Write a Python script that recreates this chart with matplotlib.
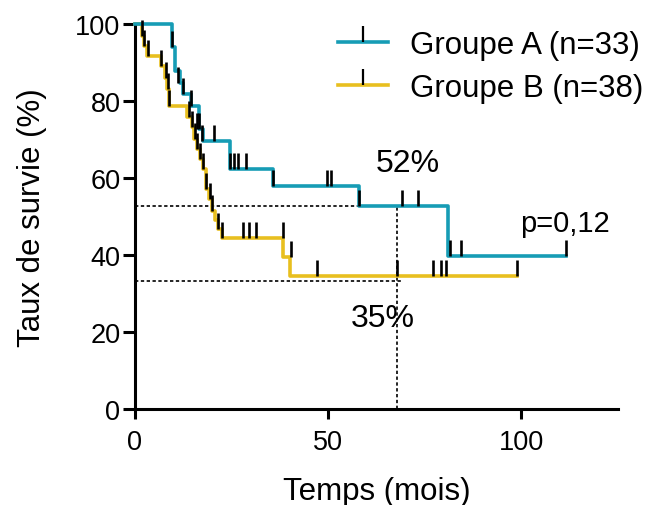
import matplotlib
matplotlib.use('Agg')
import matplotlib.pyplot as plt
from matplotlib.path import Path
from matplotlib.lines import Line2D

plt.rcParams['font.family'] = ['Liberation Sans', 'DejaVu Sans']

# survival steps (time in months, survival in %)
a_time = [0, 9.5, 10.3, 11.6, 12.3, 14.6, 16.6, 17.5, 24.5, 35.6, 58.0, 81.0, 111.6]
a_surv = [100, 93.9, 87.9, 84.8, 81.8, 78.8, 72.7, 69.7, 62.3, 58.0, 52.6, 39.7, 39.7]
b_time = [0, 1.7, 2.3, 3.2, 6.6, 7.8, 8.3, 8.9, 13.5, 14.7, 15.3, 16.0, 16.8, 17.5,
          18.3, 19.2, 19.8, 20.7, 21.5, 22.4, 38.4, 40.1, 98.9]
b_surv = [100, 97.0, 94.4, 91.8, 89.2, 86.1, 83.0, 78.8, 75.8, 73.2, 70.1, 67.5, 64.9,
          62.3, 57.1, 54.5, 51.5, 49.0, 46.8, 44.3, 39.6, 34.6, 34.6]

# censored observations
a_cens_t = [9.5, 11.2, 12.5, 14.4, 16.1, 16.6, 17.4, 20.5, 24.6, 25.6, 26.6, 28.6,
            35.6, 49.8, 50.7, 58.0, 69.0, 73.3, 81.5, 84.3, 111.6]
a_cens_s = [93.9, 84.8, 81.8, 78.8, 72.7, 72.7, 69.7, 69.7, 62.3, 62.3, 62.3, 62.3,
            58.0, 58.0, 58.0, 52.6, 52.6, 52.6, 39.7, 39.7, 39.7]
b_cens_t = [1.7, 2.3, 3.4, 6.8, 8.0, 8.6, 8.9, 14.0, 14.8, 15.4, 16.1, 16.9, 17.6,
            18.4, 19.3, 19.9, 21.5, 22.4, 28.0, 29.6, 31.2, 38.4, 40.3, 47.1, 67.7,
            77.1, 79.3, 80.6, 98.9]
b_cens_s = [97.0, 94.4, 91.8, 89.2, 86.1, 83.0, 78.8, 75.8, 73.2, 70.1, 67.5, 64.9,
            62.3, 57.1, 54.5, 51.5, 46.8, 44.3, 44.3, 44.3, 44.3, 44.3, 39.6, 34.6,
            34.6, 34.6, 34.6, 34.6, 34.6]

# reference lines at the median follow-up
ref_time = 67.7
ref_a = 52.7
ref_b = 33.3
ref_b_end = 69.0

labels = ['Groupe A (n=33)', 'Groupe B (n=38)']
blue = '#169cb5'
yellow = '#e8bf1f'

tick_marker = Path([(0, 0), (0, 1)])

fig = plt.figure(figsize=(6.62, 5.06), dpi=100)
ax = fig.add_axes([135/662, 1 - 410/506, 483/662, 385/506])

# dashed guide lines
ax.plot([0, ref_time], [ref_a, ref_a], color='k', lw=1.2, ls=(0, (2, 1.5)), zorder=1)
ax.plot([0, ref_b_end], [ref_b, ref_b], color='k', lw=1.2, ls=(0, (2, 1.5)), zorder=1)
ax.plot([ref_time, ref_time], [0, ref_a], color='k', lw=1.2, ls=(0, (2, 1.5)), zorder=1)

ax.step(b_time, b_surv, where='post', color=yellow, lw=2.6, clip_on=False, zorder=2)
ax.step(a_time, a_surv, where='post', color=blue, lw=2.6, clip_on=False, zorder=3)

ax.plot(a_cens_t, a_cens_s, ls='none', marker=tick_marker, ms=23, mec='k', mew=1.9,
        clip_on=False, zorder=4)
ax.plot(b_cens_t, b_cens_s, ls='none', marker=tick_marker, ms=23, mec='k', mew=1.9,
        clip_on=False, zorder=4)

ax.text(70.5, 61.8, '52%', fontsize=23, ha='center', va='baseline')
ax.text(64.0, 21.6, '35%', fontsize=23, ha='center', va='baseline')
ax.text(122.8, 46.3, 'p=0,12', fontsize=21, ha='right', va='baseline')

ax.set_xlim(0, 125)
ax.set_ylim(0, 100)
ax.set_xticks([0, 50, 100])
ax.set_yticks(range(0, 101, 20))
for s in ['top', 'right']:
    ax.spines[s].set_visible(False)
for s in ['left', 'bottom']:
    ax.spines[s].set_linewidth(2.2)
ax.tick_params(axis='both', width=2.2, labelsize=19.5)
ax.tick_params(axis='y', length=9, pad=1.5)
ax.tick_params(axis='x', length=7.5, pad=7)

ax.set_xlabel('Temps (mois)', fontsize=22.5, labelpad=15)
ax.set_ylabel('Taux de survie (%)', fontsize=22.5, labelpad=20)

handles = [Line2D([], [], color=c, lw=2.6, marker=tick_marker, ms=23, mec='k', mew=1.6)
           for c in (blue, yellow)]
ax.legend(handles, labels, loc='upper left', bbox_to_anchor=(338/662, 1 - 31/506),
          bbox_transform=fig.transFigure, frameon=False, fontsize=22.5,
          handlelength=1.6, handletextpad=0.7, labelspacing=0.42,
          borderpad=0, borderaxespad=0, numpoints=1)

fig.savefig('out.png', dpi=100)
